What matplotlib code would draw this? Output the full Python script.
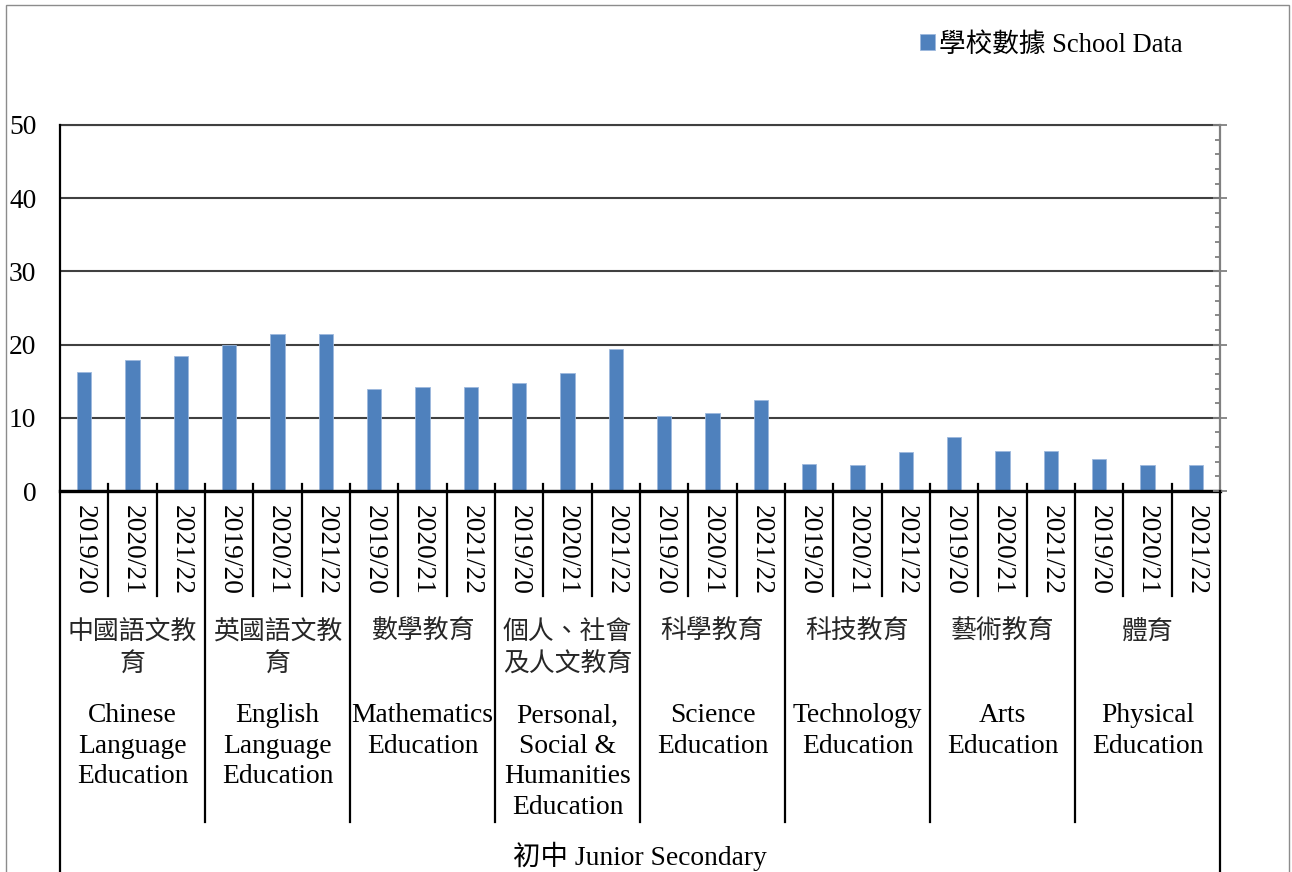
import matplotlib
matplotlib.use("Agg")
import matplotlib.pyplot as plt
import matplotlib.transforms as mtransforms
from matplotlib.lines import Line2D
from matplotlib.patches import Rectangle
from matplotlib.ticker import MultipleLocator

# ---------------- data ----------------
years = ["2019/20", "2020/21", "2021/22"]
subjects_zh = ["中國語文教\n育", "英國語文教\n育", "數學教育", "個人、社會\n及人文教育",
               "科學教育", "科技教育", "藝術教育", "體育"]
subjects_en = ["Chinese\nLanguage\nEducation", "English\nLanguage\nEducation",
               "Mathematics\nEducation", "Personal,\nSocial &\nHumanities\nEducation",
               "Science\nEducation", "Technology\nEducation", "Arts\nEducation",
               "Physical\nEducation"]
school_data = [16.2, 17.9, 18.4,
               19.9, 21.4, 21.4,
               13.9, 14.2, 14.2,
               14.7, 16.1, 19.4,
               10.3, 10.7, 12.4,
               3.7, 3.6, 5.3,
               7.4, 5.4, 5.4,
               4.4, 3.6, 3.6]
series_name = "學校數據 School Data"
level_label = "初中 Junior Secondary"
y_ticks = [0, 10, 20, 30, 40, 50]

# ---------------- style ----------------
W, H = 1292, 872
SERIF = ["Liberation Serif", "Noto Sans CJK TC"]
CJK = ["Noto Sans CJK TC", "Liberation Serif"]
FS = 19.8
BLUE = "#4F81BD"

plt.rcParams["font.family"] = SERIF

fig = plt.figure(figsize=(W / 100, H / 100), dpi=100)
L, R, T, B = 60, 1220, 125, 491
ax = fig.add_axes([L / W, 1 - B / H, (R - L) / W, (B - T) / H])

n = len(school_data)
xs = list(range(n))
bars = ax.bar(xs, school_data, width=0.29, color=BLUE, edgecolor="#9DB9DD",
              linewidth=0.6, label=series_name, zorder=3)

ax.set_xlim(-0.5, n - 0.5)
ax.set_ylim(0, 50)
ax.set_yticks(y_ticks)
ax.set_yticklabels([str(v) for v in y_ticks], fontsize=FS, family=SERIF)
ax.tick_params(axis="y", length=0, pad=17)
ax.yaxis.grid(True, color="#404040", linewidth=1.5, zorder=1)
ax.set_axisbelow(True)

ax.set_xticks(xs)
ax.set_xticklabels([])
ax.tick_params(axis="x", direction="in", length=4.5, width=1.6, color="black")

for s in ["left", "right"]:
    ax.spines[s].set_visible(False)
ax.spines["top"].set_color("#404040")
ax.spines["top"].set_linewidth(1.5)
ax.spines["bottom"].set_color("black")
ax.spines["bottom"].set_linewidth(2.4)
ax.spines["bottom"].set_zorder(5)

# right gray axis with ticks
ax2 = ax.twinx()
ax2.set_ylim(0, 50)
ax2.yaxis.set_major_locator(MultipleLocator(10))
ax2.yaxis.set_minor_locator(MultipleLocator(2))
ax2.set_yticklabels([])
ax2.tick_params(axis="y", which="major", direction="inout", length=9.5, width=1.3,
                color="#808080")
ax2.tick_params(axis="y", which="minor", direction="in", length=3.8, width=1.3,
                color="#808080")
for s in ["left", "top", "bottom"]:
    ax2.spines[s].set_visible(False)
ax2.spines["right"].set_color("#808080")
ax2.spines["right"].set_linewidth(1.6)

def fy(py):
    return 1 - py / H

trans = mtransforms.blended_transform_factory(ax.transData, fig.transFigure)

# category boundary lines
for i in range(n + 1):
    xb = i - 0.5
    if i == 0:
        y0, y1 = T, H + 20
    elif i == n:
        y0, y1 = B, H + 20
    elif i % 3 == 0:
        y0, y1 = B - 7, 822
    else:
        y0, y1 = B - 7, 596
    fig.add_artist(Line2D([xb, xb], [fy(y0), fy(y1)], transform=trans,
                          color="black", linewidth=1.6, clip_on=False, zorder=6))

# year labels
for i in range(n):
    fig.text(i, fy(505), years[i % 3], transform=trans, rotation=-90,
             ha="center", va="top", fontsize=FS, family=SERIF)

# subject labels
for g in range(len(subjects_zh)):
    xc = 3 * g + 1
    for k, line in enumerate(subjects_zh[g].split("\n")):
        fig.text(xc, fy(631 + 33 * k), line, transform=trans, ha="center",
                 va="center", fontsize=18.6, family=CJK, color="#262626")
    for k, line in enumerate(subjects_en[g].split("\n")):
        fig.text(xc, fy(716 + 30.4 * k), line, transform=trans, ha="center",
                 va="center", fontsize=FS, family=SERIF)

fig.text((L + R) / 2 / W, fy(856), level_label, ha="center", va="center",
         fontsize=FS, family=SERIF)

# legend
leg = fig.legend(handles=[bars], labels=[series_name], loc="center left",
                 bbox_to_anchor=(907 / W, fy(45)), frameon=False,
                 handlelength=0.55, handleheight=0.55, handletextpad=0.15,
                 borderpad=0, prop={"family": SERIF, "size": 19.2})

# outer figure border
fig.add_artist(Rectangle((6 / W, fy(H + 20)), (1289 - 6) / W, (H + 20 - 5) / H,
                         transform=fig.transFigure, fill=False,
                         edgecolor="#8c8c8c", linewidth=1.0, clip_on=False))

fig.savefig("out.png", dpi=100)
